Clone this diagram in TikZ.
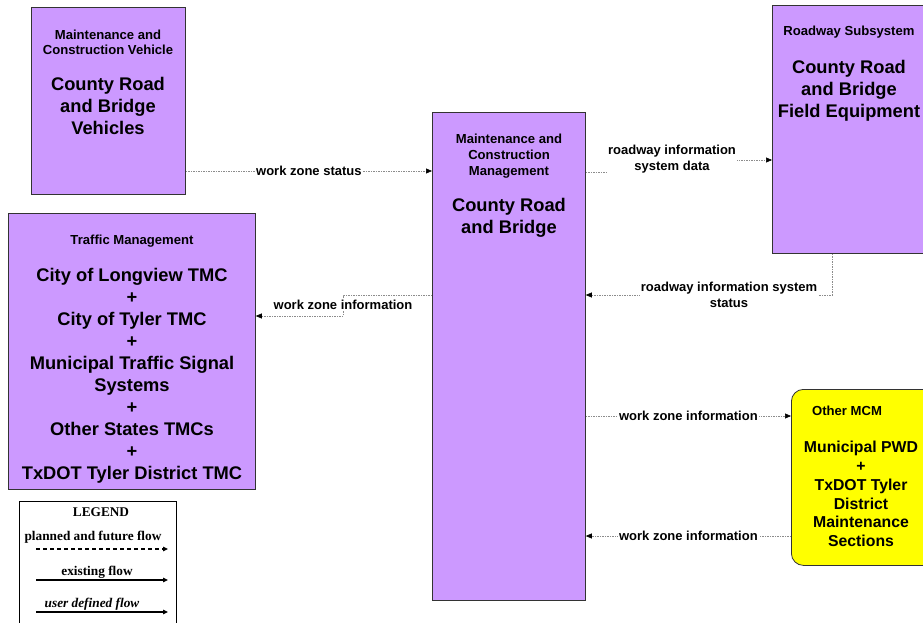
\documentclass[tikz,border=0pt]{standalone}
\usepackage{fontspec}
\setmainfont{Liberation Sans}
\newfontfamily\legendfont{Liberation Serif}
\usetikzlibrary{arrows.meta}
\definecolor{boxpurple}{HTML}{CC99FF}
\definecolor{boxyellow}{HTML}{FFFF00}
\definecolor{flowgray}{HTML}{8C8C8C}
\definecolor{boxline}{HTML}{333333}
\begin{document}
\begin{tikzpicture}[x=1pt,y=-1pt,
  box/.style={draw=boxline, line width=0.8pt, fill=boxpurple, inner sep=0, anchor=north west},
  hdr/.style={font=\fontsize{13.1}{15.5}\selectfont\bfseries, align=center, inner sep=0},
  big/.style={font=\fontsize{18.3}{22}\selectfont\bfseries, align=center, inner sep=0},
  lbl/.style={font=\fontsize{13}{15.5}\selectfont\bfseries, align=center, fill=white, inner sep=1pt},
  flow/.style={draw=flowgray, line width=0.6pt, dash pattern=on 1.5pt off 1pt, -{Triangle[length=6pt,width=5pt,black]}},
  legtext/.style={font=\legendfont\bfseries\fontsize{13.3}{14}\selectfont, inner sep=0},
  legline/.style={draw=black, line width=1.1pt, -{Triangle[length=5pt,width=4.5pt]}},
]
\useasboundingbox (0,0) rectangle (923,623);
\fill[white] (0,0) rectangle (923,623);
\begin{scope}
\clip (0,0) rectangle (923,623);
% boxes
\node[box, minimum width=154, minimum height=187] (mcv) at (31,7) {};
\node[box, minimum width=247, minimum height=276] (tm) at (8,213) {};
\node[box, minimum width=153, minimum height=488] (mcm) at (432,112) {};
\node[box, minimum width=160, minimum height=248] (rs) at (772,5) {};
\node[box, fill=boxyellow, rounded corners=12pt, minimum width=150, minimum height=176] (om) at (791,389) {};
\node[draw=black, line width=0.8pt, fill=white, inner sep=0, anchor=north west, minimum width=157, minimum height=140] (legend) at (19,501) {};

% texts in boxes
\node[hdr] (mcvh) at (108,42.5) {Maintenance and\\Construction Vehicle};
\node[big] (mcvb) at (108,106) {County Road\\and Bridge\\Vehicles};
\node[hdr] (tmh) at (132,241.5) {Traffic Management};
\node[big] (tmb) at (132,375.5) {City of Longview TMC\\+\\City of Tyler TMC\\+\\Municipal Traffic Signal\\Systems\\+\\Other States TMCs\\+\\TxDOT Tyler District TMC};
\node[hdr, font=\fontsize{13.1}{16}\selectfont\bfseries] (mcmh) at (509,156.5) {Maintenance and\\Construction\\Management};
\node[big] (mcmb) at (509,218) {County Road\\and Bridge};
\node[hdr] (rsh) at (849,32.5) {Roadway Subsystem};
\node[big] (rsb) at (849,90.5) {County Road\\and Bridge\\Field Equipment};
\node[hdr] (omh) at (847,411) {Other MCM};
\node[big, font=\fontsize{15.8}{18.8}\selectfont\bfseries] (omb) at (861,494) {Municipal PWD\\+\\TxDOT Tyler\\District\\Maintenance\\Sections};

% flows
\draw[flow] (mcv.east |- 0,171) -- node[lbl] (l1) {work zone status} (mcm.west |- 0,171);
\draw[flow] (mcm.west |- 0,295) -- (343,295) -- (343,316) -- (tm.east |- 0,316);
\node[lbl] (l2) at (343,305) {work zone information};
\draw[flow] (mcm.east |- 0,172) -- (672,172) -- (672,160) -- (rs.west |- 0,160);
\node[lbl, font=\fontsize{13}{16}\selectfont\bfseries] (l3) at (672,159.5) {roadway information\\system data};
\draw[flow] (rs.south -| 832,0) -- (832,295) -- (mcm.east |- 0,295);
\node[lbl] (l4) at (729,295) {roadway information system\\status};
\draw[flow] (mcm.east |- 0,416) -- node[lbl] (l5) {work zone information} (om.west |- 0,416);
\draw[flow] (om.west |- 0,536) -- node[lbl] (l6) {work zone information} (mcm.east |- 0,536);

% legend
\node[legtext] (legh) at (101,512.5) {LEGEND};
\node[legtext] (leg1) at (93,537.5) {planned and future flow};
\coordinate (a1) at (36,549); \coordinate (b1) at (168,549);
\draw[legline, dash pattern=on 4pt off 3pt] (a1) -- (b1);
\node[legtext] (leg2) at (97,572.5) {existing flow};
\coordinate (a2) at (36,580); \coordinate (b2) at (168,580);
\draw[legline] (a2) -- (b2);
\node[legtext, font=\legendfont\bfseries\itshape\fontsize{13.3}{14}\selectfont] (leg3) at (92,604.5) {user defined flow};
\coordinate (a3) at (36,612); \coordinate (b3) at (168,612);
\draw[legline] (a3) -- (b3);
\end{scope}
\end{tikzpicture}
\end{document}
